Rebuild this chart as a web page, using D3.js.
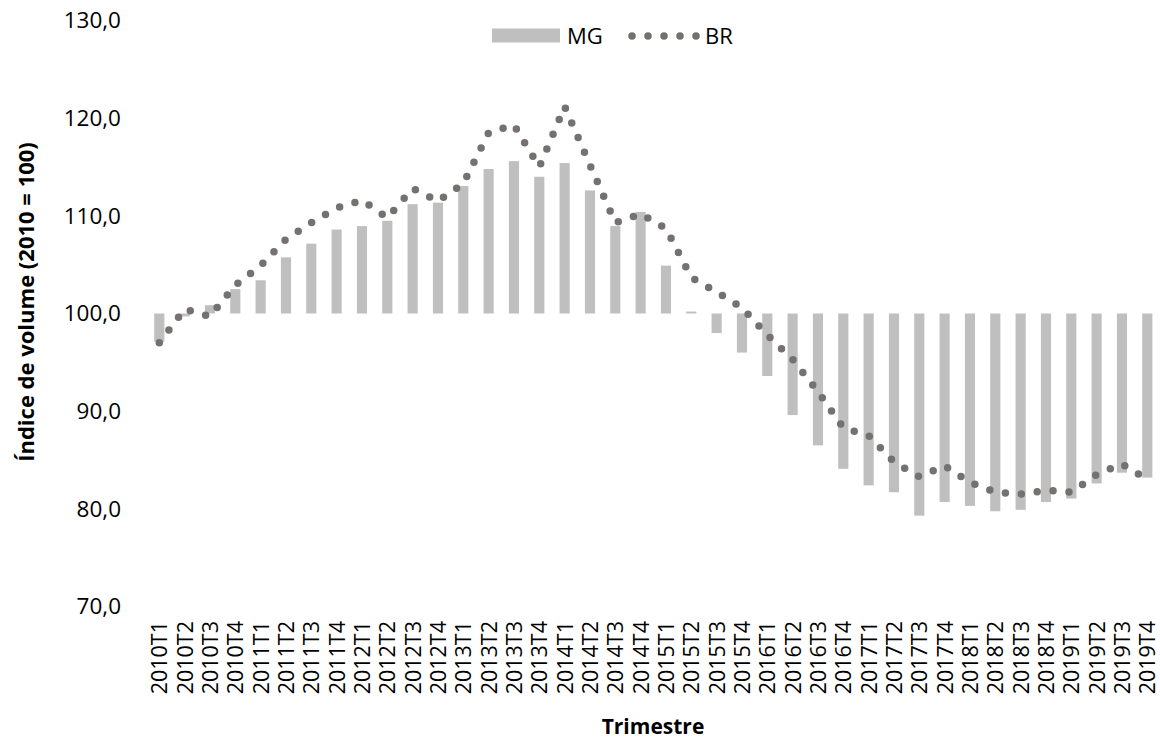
<!DOCTYPE html>
<html lang="pt">
<head>
<meta charset="utf-8">
<script src="https://cdn.jsdelivr.net/npm/d3@7"></script>
<style>
  html, body { margin: 0; padding: 0; background: #ffffff; }
  svg { display: block; }
  text { font-family: "Open Sans", "Noto Sans", sans-serif; fill: #000; }
</style>
</head>
<body>
<svg id="chart" width="1160" height="741"></svg>
<script>
// Trimestres 2010T1 .. 2019T4
const categories = [
  "2010T1","2010T2","2010T3","2010T4",
  "2011T1","2011T2","2011T3","2011T4",
  "2012T1","2012T2","2012T3","2012T4",
  "2013T1","2013T2","2013T3","2013T4",
  "2014T1","2014T2","2014T3","2014T4",
  "2015T1","2015T2","2015T3","2015T4",
  "2016T1","2016T2","2016T3","2016T4",
  "2017T1","2017T2","2017T3","2017T4",
  "2018T1","2018T2","2018T3","2018T4",
  "2019T1","2019T2","2019T3","2019T4"
];

// Minas Gerais (barras, a partir de 100)
const mgValues = [
  97.1, 99.7, 100.85, 102.5,
  103.4, 105.75, 107.15, 108.6,
  108.95, 109.5, 111.2, 111.35,
  113.05, 114.8, 115.6, 114.0,
  115.4, 112.6, 108.95, 110.4,
  104.9, 100.2, 98.0, 96.0,
  93.6, 89.6, 86.5, 84.1,
  82.4, 81.7, 79.3, 80.7,
  80.3, 79.75, 79.9, 80.7,
  81.05, 82.6, 83.7, 83.2
];

// Brasil (linha pontilhada)
const brValues = [
  97.0, 100.45, 99.7, 102.9,
  104.9, 107.6, 109.3, 110.8,
  111.6, 109.8, 112.8, 111.5,
  113.3, 118.5, 119.3, 115.0,
  121.2, 115.2, 109.3, 110.2,
  108.7, 103.7, 102.2, 100.6,
  97.8, 95.3, 92.0, 88.3,
  87.5, 84.8, 83.3, 84.4,
  82.7, 81.7, 81.5, 81.9,
  81.7, 83.5, 84.6, 83.0
];

const yTicks = [70, 80, 90, 100, 110, 120, 130];
const baseValue = 100;

const barColor = "#bfbfbf";
const lineColor = "#767171";

const svg = d3.select("#chart");

const x = d3.scalePoint()
  .domain(categories)
  .range([159.3, 1147.3]);

const y = d3.scaleLinear()
  .domain([70, 130])
  .range([606.5, 20.5]);

const barWidth = x.step() * 0.4;
const fmt = d3.formatLocale({ decimal: ",", thousands: ".", grouping: [3], currency: ["R$", ""] }).format(".1f");

// Eixo Y (somente rótulos)
const yAxis = d3.axisLeft(y).tickValues(yTicks).tickFormat(fmt).tickSize(0).tickPadding(0);
const gy = svg.append("g").attr("transform", "translate(121,0)").call(yAxis);
gy.select(".domain").remove();
gy.selectAll("text")
  .attr("font-family", "'Open Sans', sans-serif")
  .attr("font-size", 22.5)
  .attr("fill", "#000");

// Barras MG
svg.append("g")
  .selectAll("rect")
  .data(categories.map((c, i) => ({ c, v: mgValues[i] })))
  .join("rect")
  .attr("x", d => x(d.c) - barWidth / 2)
  .attr("width", barWidth)
  .attr("y", d => y(Math.max(d.v, baseValue)))
  .attr("height", d => Math.abs(y(d.v) - y(baseValue)))
  .attr("fill", barColor);

// Linha BR
const line = d3.line()
  .x((d, i) => x(categories[i]))
  .y(d => y(d));

svg.append("path")
  .datum(brValues)
  .attr("d", line)
  .attr("fill", "none")
  .attr("stroke", lineColor)
  .attr("stroke-width", 7.5)
  .attr("stroke-linecap", "round")
  .attr("stroke-linejoin", "round")
  .attr("stroke-dasharray", "0 16");

// Eixo X (rótulos rotacionados)
const xAxis = d3.axisBottom(x).tickSize(0).tickPadding(0);
const gx = svg.append("g").attr("transform", "translate(0,621)").call(xAxis);
gx.select(".domain").remove();
gx.selectAll("text")
  .attr("font-family", "'Open Sans', sans-serif")
  .attr("font-size", 21.5)
  .attr("fill", "#000")
  .attr("text-anchor", "end")
  .attr("transform", "rotate(-90)")
  .attr("x", 0)
  .attr("y", 0)
  .attr("dy", "0.35em");

// Títulos dos eixos
svg.append("text")
  .attr("transform", "translate(26,302) rotate(-90)")
  .attr("text-anchor", "middle")
  .attr("dy", "0.35em")
  .attr("font-size", 22)
  .attr("font-weight", "bold")
  .text("Índice de volume (2010 = 100)");

svg.append("text")
  .attr("x", 653)
  .attr("y", 734)
  .attr("text-anchor", "middle")
  .attr("font-size", 21)
  .attr("font-weight", "bold")
  .text("Trimestre");

// Legenda
const legend = svg.append("g");
legend.append("rect")
  .attr("x", 492).attr("y", 28.5)
  .attr("width", 68).attr("height", 14)
  .attr("fill", barColor);
legend.append("text")
  .attr("x", 567).attr("y", 36)
  .attr("dy", "0.35em")
  .attr("font-size", 22)
  .text("MG");
legend.append("path")
  .attr("d", d3.line()([[632, 36], [697, 36]]))
  .attr("fill", "none")
  .attr("stroke", lineColor)
  .attr("stroke-width", 7.5)
  .attr("stroke-linecap", "round")
  .attr("stroke-dasharray", "0 16");
legend.append("text")
  .attr("x", 705).attr("y", 36)
  .attr("dy", "0.35em")
  .attr("font-size", 22)
  .text("BR");
</script>
</body>
</html>
